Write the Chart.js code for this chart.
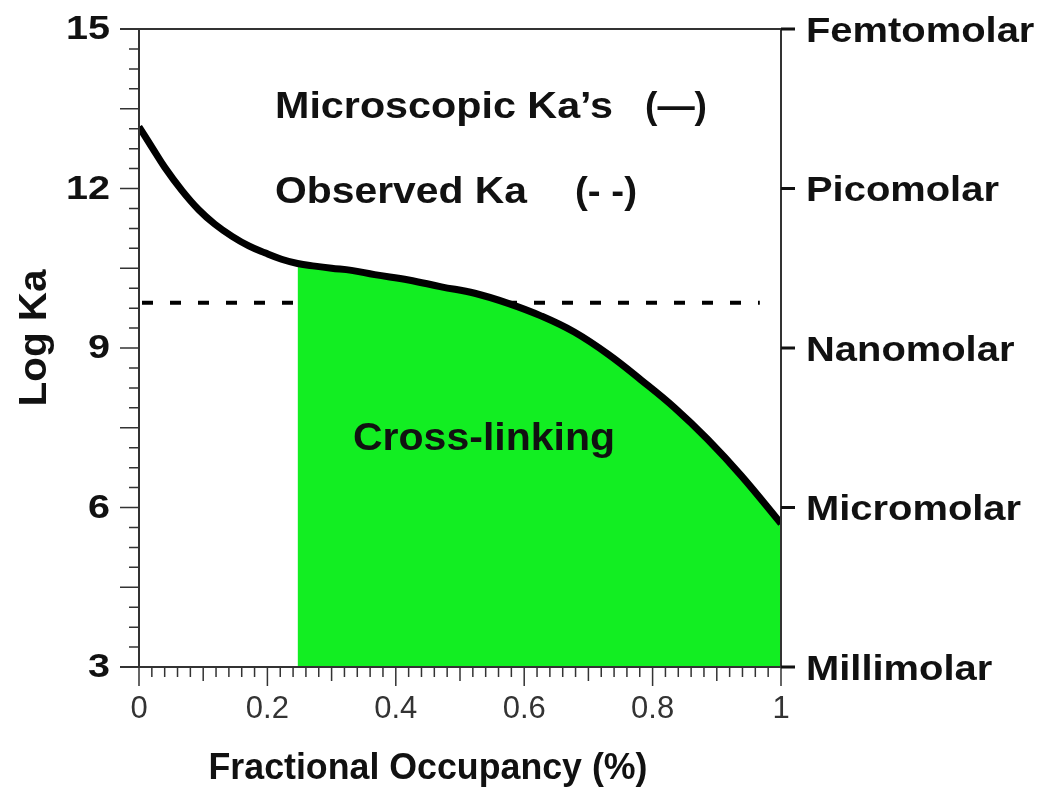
<!DOCTYPE html>
<html>
<head>
<meta charset="utf-8">
<script src="https://cdn.jsdelivr.net/npm/chart.js@4.4.1/dist/chart.umd.min.js"></script>
<style>
  body { margin: 0; background: #fff; }
  #wrap { width: 1050px; height: 808px; position: relative; }
</style>
</head>
<body>
<div id="wrap"><canvas id="kaChart"></canvas></div>
<script>
// curve: fractional occupancy vs log Ka
const occupancy = [0, 0.02, 0.04, 0.067, 0.093, 0.118, 0.145, 0.171, 0.196, 0.222, 0.247, 0.274, 0.3, 0.331,
  0.367, 0.42, 0.471, 0.523, 0.575, 0.627, 0.678, 0.731, 0.782, 0.834, 0.886, 0.938, 1.0];
const logKa = [13.16, 12.78, 12.4, 11.96, 11.6, 11.33, 11.1, 10.92, 10.79, 10.67, 10.59, 10.54, 10.5, 10.46,
  10.38, 10.28, 10.15, 10.03, 9.84, 9.6, 9.3, 8.88, 8.4, 7.88, 7.28, 6.6, 5.7];
const observedKa = 9.85;
const observedFrom = 0;
const observedTo = 0.967;
const crossLinkFrom = 0.247;

const yTicks = [3, 6, 9, 12, 15];
const yTickLabels = ['3', '6', '9', '12', '15'];
const xTicks = [0, 0.2, 0.4, 0.6, 0.8, 1];
const xTickLabels = ['0', '0.2', '0.4', '0.6', '0.8', '1'];
const molarLabels = ['Millimolar', 'Micromolar', 'Nanomolar', 'Picomolar', 'Femtomolar'];

const curvePts = occupancy.map((x, i) => ({ x: x, y: logKa[i] }));
const fillPts = curvePts.filter(p => p.x >= crossLinkFrom);

const AXIS = '#333';
const FONT = '"Liberation Sans", Arial, sans-serif';

// draw text, optionally squeezed/stretched to a given width
function fitText(ctx, str, x, y, size, bold, width, align) {
  ctx.save();
  ctx.font = (bold ? 'bold ' : '') + size + 'px ' + FONT;
  const w = ctx.measureText(str).width;
  const sx = width ? width / w : 1;
  ctx.translate(x, y);
  ctx.scale(sx, 1);
  ctx.textAlign = align || 'left';
  ctx.fillText(str, 0, 0);
  ctx.restore();
}

const framePlugin = {
  id: 'frame',
  afterDraw(chart) {
    const ctx = chart.ctx;
    const xs = chart.scales.x, ys = chart.scales.y;
    const L = xs.left, R = xs.right, T = ys.top, B = ys.bottom;
    ctx.save();
    ctx.strokeStyle = AXIS;
    ctx.lineWidth = 2;
    ctx.beginPath();
    ctx.moveTo(120, T); ctx.lineTo(R, T);
    ctx.moveTo(L, T); ctx.lineTo(L, B);
    ctx.moveTo(120, B); ctx.lineTo(R, B);
    ctx.moveTo(R, T); ctx.lineTo(R, B);
    ctx.stroke();

    // left ticks, every 0.375 with long ones on 1.5
    ctx.lineWidth = 1.5;
    ctx.beginPath();
    for (let i = 0; i <= 32; i++) {
      const py = ys.getPixelForValue(3 + i * 0.375);
      const len = (i % 4 === 0) ? 19 : 10;
      ctx.moveTo(L, py); ctx.lineTo(L - len, py);
    }
    // bottom ticks every 0.02
    for (let i = 0; i <= 50; i++) {
      const px = xs.getPixelForValue(i * 0.02);
      const len = (i % 10 === 0) ? 19 : (i % 5 === 0 ? 14 : 10);
      ctx.moveTo(px, B); ctx.lineTo(px, B + len);
    }
    ctx.stroke();

    // right side dashes
    ctx.lineWidth = 3;
    ctx.strokeStyle = '#111';
    ctx.beginPath();
    yTicks.forEach(v => {
      const py = ys.getPixelForValue(v);
      ctx.moveTo(R, py); ctx.lineTo(R + 14, py);
    });
    ctx.stroke();

    // tick labels
    ctx.fillStyle = '#111';
    ctx.textBaseline = 'middle';
    yTicks.forEach((v, i) => {
      const s = yTickLabels[i];
      fitText(ctx, s, 110, ys.getPixelForValue(v) + 1, 34, true, s.length * 22, 'right');
    });
    ctx.fillStyle = '#333';
    xTicks.forEach((v, i) => {
      fitText(ctx, xTickLabels[i], xs.getPixelForValue(v), 709, 31, false, null, 'center');
    });
    ctx.fillStyle = '#111';
    molarLabels.forEach((s, i) => {
      ctx.save();
      ctx.font = 'bold 35px ' + FONT;
      const w = ctx.measureText(s).width;
      ctx.restore();
      fitText(ctx, s, 806, ys.getPixelForValue(yTicks[i]) + 3, 35, true, w * 1.14, 'left');
    });

    // axis titles
    ctx.textBaseline = 'alphabetic';
    fitText(ctx, 'Fractional Occupancy (%)', 428, 779, 37, true, 439, 'center');
    ctx.save();
    ctx.translate(46, 338);
    ctx.rotate(-Math.PI / 2);
    fitText(ctx, 'Log Ka', 0, 0, 39, true, 137, 'center');
    ctx.restore();

    // annotations
    fitText(ctx, 'Microscopic Ka\u2019s', 275, 118, 37, true, 338, 'left');
    fitText(ctx, '(\u2014)', 645, 118, 37, true, 62, 'left');
    fitText(ctx, 'Observed Ka', 275, 203, 37, true, 252, 'left');
    fitText(ctx, '(- -)', 575, 203, 37, true, 62, 'left');
    fitText(ctx, 'Cross-linking', 353, 450, 38, true, 262, 'left');
    ctx.restore();
  }
};

const ctx = document.getElementById('kaChart').getContext('2d');
const chart = new Chart(ctx, {
  type: 'line',
  data: {
    datasets: [
      {
        label: 'Microscopic Ka',
        data: curvePts,
        borderColor: '#000',
        borderWidth: 7,
        pointRadius: 0,
        tension: 0.4,
        fill: false,
        order: 1
      },
      {
        label: 'Cross-linking',
        data: fillPts,
        borderWidth: 0,
        borderColor: 'rgba(0,0,0,0)',
        backgroundColor: '#12ee22',
        pointRadius: 0,
        tension: 0.4,
        fill: 'start',
        order: 2
      },
      {
        label: 'Observed Ka',
        data: [{ x: observedFrom, y: observedKa }, { x: observedTo, y: observedKa }],
        borderColor: '#000',
        borderWidth: 4,
        borderDash: [11, 17],
        borderDashOffset: 25,
        pointRadius: 0,
        fill: false,
        order: 3
      }
    ]
  },
  options: {
    responsive: true,
    maintainAspectRatio: false,
    animation: false,
    layout: { padding: { left: 139, right: 269, top: 29, bottom: 141 } },
    scales: {
      x: { type: 'linear', min: 0, max: 1, display: false },
      y: { type: 'linear', min: 3, max: 15, display: false }
    },
    plugins: {
      legend: { display: false },
      tooltip: { enabled: false }
    }
  },
  plugins: [framePlugin]
});
</script>
</body>
</html>
